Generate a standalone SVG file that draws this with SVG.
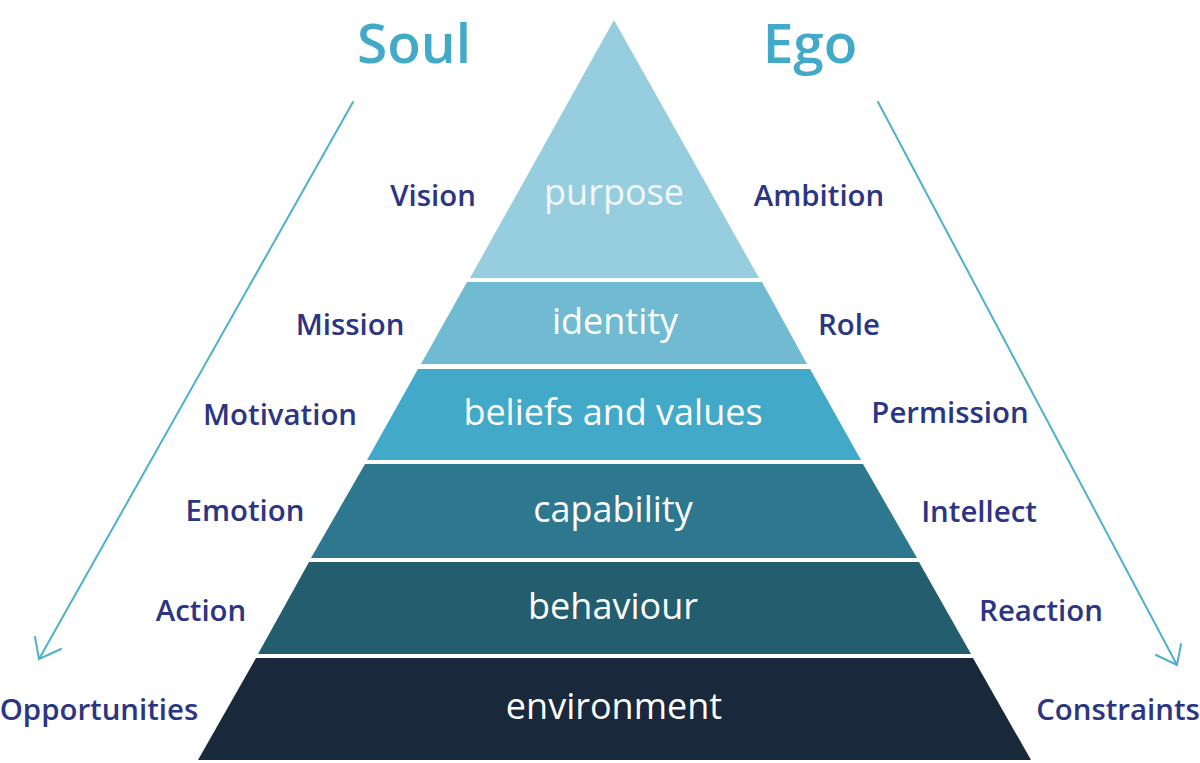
<svg xmlns="http://www.w3.org/2000/svg" width="1200" height="763" viewBox="0 0 1200 763">
<style>
text{font-family:"Open Sans","DejaVu Sans",sans-serif}
.title{font-size:55px;font-weight:600;fill:#43a9c8;text-anchor:middle}
.side{font-size:29.4px;font-weight:600;fill:#2b3583;text-anchor:middle}
.layer{font-size:36px;font-weight:400;fill:#fff;text-anchor:middle}
.arrow{fill:none;stroke:#4fb0cb;stroke-width:2;stroke-linecap:round;stroke-linejoin:miter}
</style>
<rect width="1200" height="763" fill="#fff"/>
<g id="connectors">
<path class="arrow" d="M353 102L39 659M35 637L39 659L61 649"/>
<path class="arrow" d="M878 102L1177 665M1181 644L1177 665L1156 655"/>
</g>
<g id="title-soul"><text class="title" x="414" y="63">Soul</text></g>
<g id="title-ego"><text class="title" x="810" y="63">Ego</text></g>
<g id="purpose"><polygon points="614,20 759,278 470,278" fill="#96cddf"/><text class="layer" x="614" y="205" fill-opacity=".9">purpose</text></g>
<g id="identity"><polygon points="467,282 762,282 807,364 421,364" fill="#70bbd2"/><text class="layer" x="615" y="334">identity</text></g>
<g id="beliefs"><polygon points="418,369 810,369 861,460 367,460" fill="#43a9c8"/><text class="layer" x="613" y="425">beliefs and values</text></g>
<g id="capability"><polygon points="365,464 863,464 917,558 311,558" fill="#2d788f"/><text class="layer" x="613" y="522">capability</text></g>
<g id="behaviour"><polygon points="309,562 919,562 971,654 258,654" fill="#235d6e"/><text class="layer" x="613" y="619">behaviour</text></g>
<g id="environment"><polygon points="256,658 973,658 1031,760 198,760" fill="#19293b"/><text class="layer" x="614" y="719">environment</text></g>
<g id="vision"><text class="side" x="433" y="206">Vision</text></g>
<g id="ambition"><text class="side" x="819" y="206">Ambition</text></g>
<g id="mission"><text class="side" x="350" y="335">Mission</text></g>
<g id="role"><text class="side" x="849" y="335">Role</text></g>
<g id="motivation"><text class="side" x="280" y="425">Motivation</text></g>
<g id="permission"><text class="side" x="950" y="423">Permission</text></g>
<g id="emotion"><text class="side" x="245" y="521">Emotion</text></g>
<g id="intellect"><text class="side" x="979" y="522">Intellect</text></g>
<g id="action"><text class="side" x="201" y="621">Action</text></g>
<g id="reaction"><text class="side" x="1041" y="621">Reaction</text></g>
<g id="opportunities"><text class="side" x="99" y="720">Opportunities</text></g>
<g id="constraints"><text class="side" x="1118" y="720">Constraints</text></g>
</svg>
